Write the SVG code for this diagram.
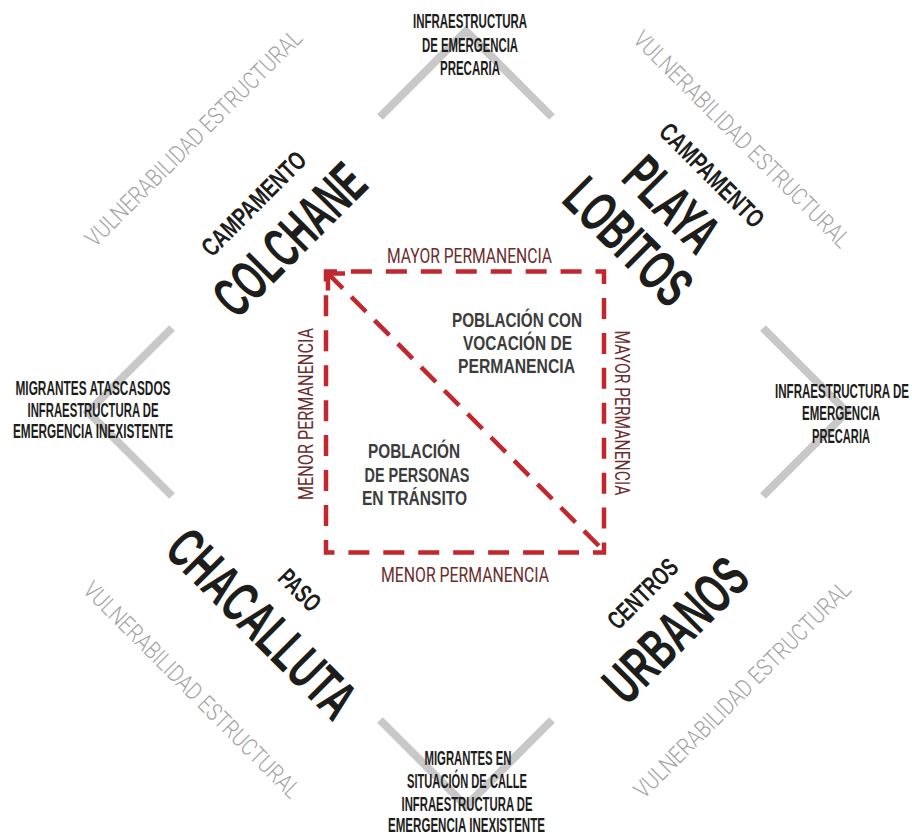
<svg xmlns="http://www.w3.org/2000/svg" width="912" height="834" viewBox="0 0 912 834">
<style>
.bg{fill:#ffffff}
.chev{fill:none;stroke:#c8c8c8;stroke-width:8;stroke-linecap:butt;stroke-linejoin:miter}
.vul{font-family:Roboto,"Liberation Sans",sans-serif;font-weight:300;font-size:24px;fill:#a3a3a3;text-anchor:middle}
.big{font-family:"Liberation Sans Narrow","Liberation Sans",sans-serif;font-weight:700;font-size:57px;fill:#1d1d1b;text-anchor:middle}
.sub{font-family:"Liberation Sans Narrow","Liberation Sans",sans-serif;font-weight:700;font-size:26px;fill:#1d1d1b;text-anchor:middle}
.lab{font-family:"Liberation Sans Narrow","Liberation Sans",sans-serif;font-weight:700;font-size:20.5px;fill:#1d1d1b;text-anchor:middle}
.axis{font-family:Roboto,"Liberation Sans",sans-serif;font-weight:400;font-size:21px;fill:#6b2c2c;text-anchor:middle}
.pop{font-family:"Liberation Sans Narrow","Liberation Sans",sans-serif;font-weight:700;font-size:21px;fill:#3c3c3c;text-anchor:middle}
.dash{fill:none;stroke:#c1272d;stroke-width:4.5;stroke-linejoin:miter}
</style>
<defs>
<marker id="arrow" markerUnits="userSpaceOnUse" markerWidth="30" markerHeight="30" refX="0" refY="0" viewBox="-15 -15 30 30" orient="auto-start-reverse">
<path d="M-12,-12 L0,0 L-12,12" fill="none" stroke="#c1272d" stroke-width="4.5"/>
</marker>
</defs>
<rect class="bg" x="0" y="0" width="912" height="834"/>

<g id="frame">
<path class="chev" d="M380,117 L466,31 L552,117"/>
<path class="chev" d="M380,720 L466,806 L552,720"/>
<path class="chev" d="M172,328 L88,412 L172,496"/>
<path class="chev" d="M763,328 L847,412 L763,496"/>
<text class="vul" transform="translate(199.4,143.9) rotate(-45)" textLength="295" lengthAdjust="spacingAndGlyphs">VULNERABILIDAD ESTRUCTURAL</text>
<text class="vul" transform="translate(736,145) rotate(45)" textLength="295" lengthAdjust="spacingAndGlyphs">VULNERABILIDAD ESTRUCTURAL</text>
<text class="vul" transform="translate(186,695.5) rotate(45)" textLength="295" lengthAdjust="spacingAndGlyphs">VULNERABILIDAD ESTRUCTURAL</text>
<text class="vul" transform="translate(748,695.5) rotate(-45)" textLength="295" lengthAdjust="spacingAndGlyphs">VULNERABILIDAD ESTRUCTURAL</text>
</g>

<g id="node-colchane">
<text class="sub" transform="translate(260,210) rotate(-45)" textLength="136" lengthAdjust="spacingAndGlyphs">CAMPAMENTO</text>
<text class="big" transform="translate(303.5,253.5) rotate(-45)" textLength="189" lengthAdjust="spacingAndGlyphs">COLCHANE</text>
</g>

<g id="node-playa-lobitos">
<text class="sub" transform="translate(705.5,181.5) rotate(45)" textLength="136" lengthAdjust="spacingAndGlyphs">CAMPAMENTO</text>
<text class="big" transform="translate(658,218) rotate(45)" textLength="109" lengthAdjust="spacingAndGlyphs">PLAYA</text>
<text class="big" transform="translate(614.5,255.5) rotate(45)" textLength="154" lengthAdjust="spacingAndGlyphs">LOBITOS</text>
</g>

<g id="node-chacalluta">
<text class="sub" transform="translate(293.5,596.5) rotate(45)" textLength="48" lengthAdjust="spacingAndGlyphs">PASO</text>
<text class="big" transform="translate(248,637.5) rotate(45)" textLength="241" lengthAdjust="spacingAndGlyphs">CHACALLUTA</text>
</g>

<g id="node-urbanos">
<text class="sub" transform="translate(649,600) rotate(-45)" textLength="88" lengthAdjust="spacingAndGlyphs">CENTROS</text>
<text class="big" transform="translate(689.5,644) rotate(-45)" textLength="178" lengthAdjust="spacingAndGlyphs">URBANOS</text>
</g>

<g id="label-top">
<text class="lab" x="470" y="28" textLength="114" lengthAdjust="spacingAndGlyphs">INFRAESTRUCTURA</text>
<text class="lab" x="470" y="51.5" textLength="96" lengthAdjust="spacingAndGlyphs">DE EMERGENCIA</text>
<text class="lab" x="470" y="75" textLength="60" lengthAdjust="spacingAndGlyphs">PRECARIA</text>
</g>

<g id="label-left">
<text class="lab" x="93" y="395" textLength="155" lengthAdjust="spacingAndGlyphs">MIGRANTES ATASCASDOS</text>
<text class="lab" x="93" y="417" textLength="131" lengthAdjust="spacingAndGlyphs">INFRAESTRUCTURA DE</text>
<text class="lab" x="93" y="438" textLength="160" lengthAdjust="spacingAndGlyphs">EMERGENCIA INEXISTENTE</text>
</g>

<g id="label-right">
<text class="lab" x="842" y="398" textLength="134" lengthAdjust="spacingAndGlyphs">INFRAESTRUCTURA DE</text>
<text class="lab" x="841" y="420" textLength="78" lengthAdjust="spacingAndGlyphs">EMERGENCIA</text>
<text class="lab" x="841" y="443" textLength="58" lengthAdjust="spacingAndGlyphs">PRECARIA</text>
</g>

<g id="label-bottom">
<text class="lab" x="468" y="765" textLength="87" lengthAdjust="spacingAndGlyphs">MIGRANTES EN</text>
<text class="lab" x="467" y="788" textLength="120" lengthAdjust="spacingAndGlyphs">SITUACIÓN DE CALLE</text>
<text class="lab" x="467" y="811" textLength="131" lengthAdjust="spacingAndGlyphs">INFRAESTRUCTURA DE</text>
<text class="lab" x="466.5" y="832" textLength="157" lengthAdjust="spacingAndGlyphs">EMERGENCIA INEXISTENTE</text>
</g>

<g id="node-matrix">
<text class="axis" x="469.5" y="263" textLength="165" lengthAdjust="spacingAndGlyphs">MAYOR PERMANENCIA</text>
<text class="axis" x="465" y="582" textLength="168" lengthAdjust="spacingAndGlyphs">MENOR PERMANENCIA</text>
<text class="axis" transform="translate(313,414) rotate(-90)" textLength="172" lengthAdjust="spacingAndGlyphs">MENOR PERMANENCIA</text>
<text class="axis" transform="translate(615,413) rotate(90)" textLength="165" lengthAdjust="spacingAndGlyphs">MAYOR PERMANENCIA</text>
<text class="pop" x="517" y="327" textLength="130" lengthAdjust="spacingAndGlyphs">POBLACIÓN CON</text>
<text class="pop" x="517.5" y="350" textLength="109" lengthAdjust="spacingAndGlyphs">VOCACIÓN DE</text>
<text class="pop" x="516.5" y="373" textLength="117" lengthAdjust="spacingAndGlyphs">PERMANENCIA</text>
<text class="pop" x="414" y="458" textLength="92" lengthAdjust="spacingAndGlyphs">POBLACIÓN</text>
<text class="pop" x="417" y="482" textLength="105" lengthAdjust="spacingAndGlyphs">DE PERSONAS</text>
<text class="pop" x="414.5" y="505" textLength="105" lengthAdjust="spacingAndGlyphs">EN TRÁNSITO</text>
</g>

<g id="connectors">
<path class="dash" d="M326,271.5 H604 V552.5 H326 Z" stroke-dasharray="21 13.94" stroke-dashoffset="10"/>
<path class="dash" d="M328,273.5 L602,549" stroke-dasharray="21 12" marker-start="url(#arrow)"/>
</g>
</svg>
